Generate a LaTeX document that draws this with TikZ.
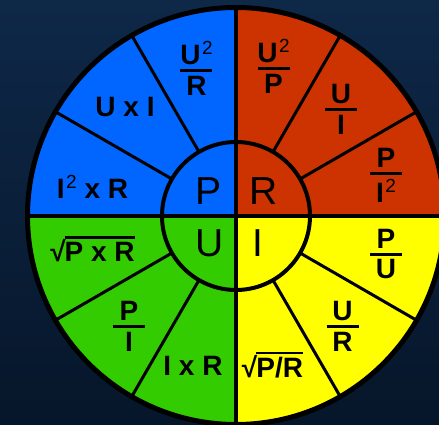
\documentclass[tikz,border=0pt]{standalone}
\usepackage{fontspec}
\setmainfont{Liberation Sans}
\definecolor{fondoazul}{RGB}{14, 40, 72}
\definecolor{fondooscuro}{RGB}{6, 22, 42}
\definecolor{azulP}{RGB}{0, 102, 255}
\definecolor{rojoR}{RGB}{204, 51, 0}
\definecolor{amarilloI}{RGB}{255, 255, 0}
\definecolor{verdeU}{RGB}{51, 204, 0}
\usetikzlibrary{calc}
\newcommand{\sq}{\kern1.5pt\raisebox{10pt}{\fontsize{19}{19}\selectfont\mdseries 2}}
\newcommand{\frc}[2]{\vbox{\offinterlineskip\halign{\hfil##\hfil\cr#1\cr\noalign{\kern5pt}\vrule width 32pt height 3pt depth 0pt\cr\noalign{\kern3.5pt}#2\cr}}}
\newcommand{\rad}[1]{√\kern-1pt\vbox{\hrule height 2.5pt\kern3pt\hbox{#1}}}

\begin{document}
\begin{tikzpicture}[
          x=1pt, y=1pt,
          rim/.style={draw=black, line width=5pt},
          eje/.style={draw=black, line width=4pt},
          radio/.style={draw=black, line width=3pt},
          formula/.style={inner sep=0pt, text=black, font=\fontsize{28}{28}\selectfont\bfseries},
          letra/.style={inner sep=0pt, text=black, font=\fontsize{39}{39}\selectfont}
        ]
        \useasboundingbox (-236,-209) rectangle (203,216);
        \clip (-236,-209) rectangle (203,216);
        \shade[top color=fondoazul, bottom color=fondooscuro] (-236,-209) rectangle (203,216);
        % cuadrantes
        \fill[azulP] (0,0) -- (90:208.5) arc[start angle=90, end angle=180, radius=208.5] -- cycle;
        \fill[verdeU] (0,0) -- (180:208.5) arc[start angle=180, end angle=270, radius=208.5] -- cycle;
        \fill[amarilloI] (0,0) -- (270:208.5) arc[start angle=270, end angle=360, radius=208.5] -- cycle;
        \fill[rojoR] (0,0) -- (0:208.5) arc[start angle=0, end angle=90, radius=208.5] -- cycle;
        % divisiones
        \draw[radio] (30:74) -- (30:208.5);
        \draw[radio] (60:74) -- (60:208.5);
        \draw[radio] (120:74) -- (120:208.5);
        \draw[radio] (150:74) -- (150:208.5);
        \draw[radio] (210:74) -- (210:208.5);
        \draw[radio] (240:74) -- (240:208.5);
        \draw[radio] (300:74) -- (300:208.5);
        \draw[radio] (330:74) -- (330:208.5);
        \draw[eje] (-208.5,0) -- (208.5,0);
        \draw[eje] (0,-208.5) -- (0,208.5);
        \draw[eje] (0,0) circle[radius=74];
        \draw[rim] (0,0) circle[radius=208.5];
        % centro
        \node[letra] (P) at (-27,25) {P};
        \node[letra] (R) at (28,25) {R};
        \node[letra] (U) at (-26.5,-27) {U};
        \node[letra] (I) at (22,-27) {I};
        % potencia
        \node[formula] (u2r) at (-39.5,148) {\frc{U\sq}{R}};
        \node[formula] (uxi) at (-111,109) {U x I};
        \node[formula] (i2xr) at (-143.5,29) {I\sq{} x R};
        % resistencia
        \node[formula] (u2p) at (37.5,150) {\frc{U\sq}{P}};
        \node[formula] (ui) at (105,107) {\frc{U}{I}};
        \node[formula] (pi2) at (150,41) {\frc{P}{I\sq}};
        % intensidad
        \node[formula] (pu) at (150,-38) {\frc{P}{U}};
        \node[formula] (ur) at (106.5,-110) {\frc{U}{R}};
        \node[formula] (rpr) at (36.5,-149) {\rad{P/R}};
        % tension
        \node[formula] (rpxr) at (-143.5,-33) {\rad{P x R}};
        \node[formula] (pi) at (-107,-110) {\frc{P}{I}};
        \node[formula] (ixr) at (-43,-150) {I x R};
      \end{tikzpicture}
\end{document}
